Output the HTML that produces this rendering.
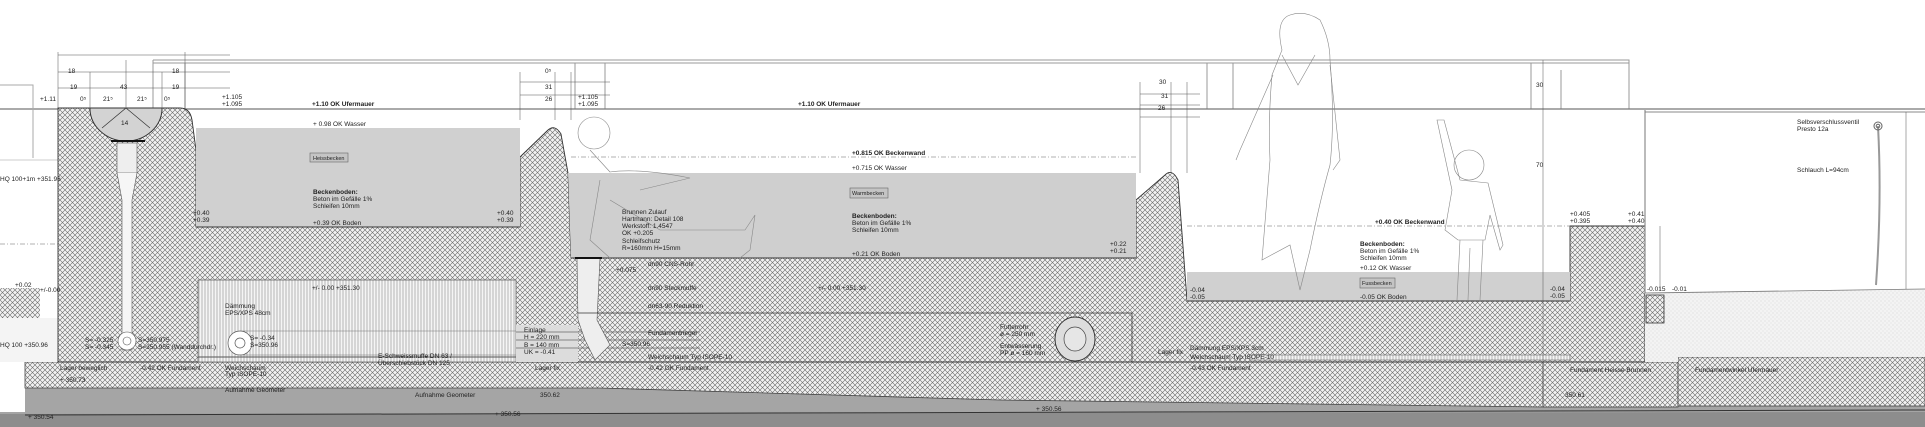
<!DOCTYPE html>
<html><head><meta charset="utf-8"><style>
html,body{margin:0;padding:0;background:#fff}
svg{display:block}
text{font-family:"Liberation Sans",sans-serif;font-size:6.5px;fill:#222}
.b{font-weight:bold}
.s{font-size:5.5px}
</style></head><body>
<svg width="1925" height="427" viewBox="0 0 1925 427" xmlns="http://www.w3.org/2000/svg">
<defs>
<pattern id="h" width="5" height="5" patternUnits="userSpaceOnUse">
<rect width="5" height="5" fill="#f2f2f2"/>
<path d="M0,0L5,5M5,0L0,5" stroke="#6a6a6a" stroke-width="0.6"/>
</pattern>
<pattern id="v" width="3" height="3" patternUnits="userSpaceOnUse">
<rect width="3" height="3" fill="#f5f5f5"/>
<path d="M1,0V3" stroke="#8a8a8a" stroke-width="0.6"/>
</pattern>
<pattern id="d" width="4" height="4" patternUnits="userSpaceOnUse">
<rect width="4" height="4" fill="#f3f3f3"/>
<circle cx="1" cy="1" r="0.4" fill="#aaa"/><circle cx="3" cy="3" r="0.4" fill="#bbb"/>
</pattern>
</defs>

<g stroke="#999" fill="none" stroke-width="1">
<path d="M153,60H1629V109"/>
<path d="M153,63H1629"/>
<path d="M153,60V109M185,63V109M575,63V109M605,63V109"/>
<path d="M1207,63V109M1233,63V109M1531,63V109M1561,70V109"/>
</g>
<path d="M0,109H1925" stroke="#777" stroke-width="1.2"/>
<path d="M1645,112H1925" stroke="#888" stroke-width="1"/>
<path d="M0,85H33V158" stroke="#aaa" fill="none"/>
<path d="M0,160H58" stroke="#ccc"/>

<polygon points="25,387 600,385 1000,398 1543,404 1925,404 1925,427 0,427 0,412 25,412" fill="#a5a5a5"/>
<polygon points="0,414 1925,412 1925,427 0,427" fill="#8d8d8d"/>
<path d="M25,415 L1925,410" stroke="#333" stroke-width="1"/>

<polygon points="25,362 1543,362 1543,407 1000,400 600,388 25,388" fill="url(#h)" stroke="#444" stroke-width="0.8"/>
<rect x="1543" y="362" width="135" height="45" fill="url(#h)" stroke="#444" stroke-width="0.8"/>
<rect x="1678" y="357" width="247" height="49" fill="url(#h)" stroke="#444" stroke-width="0.8"/>

<rect x="0" y="288" width="40" height="30" fill="url(#h)"/>
<rect x="0" y="318" width="58" height="44" fill="#f4f4f4"/>

<path d="M58,108 H90 A36,33 0 0 0 162,108 H180 Q190,108 192,120 L196,150 V227 H520 V157 L548,130 Q555,124 561,134 L568,173 L571,258 H1136 V200 L1165,175 Q1172,168 1178,180 L1187,300 V301 H1570 V226 H1645 V362 H58 Z" fill="url(#h)" stroke="#333" stroke-width="0.9"/>
<path d="M90,108 A36,33 0 0 0 162,108 Z" fill="#d3d3d3" stroke="#333" stroke-width="0.9"/>
<path d="M102,128 L126,108 L150,128" stroke="#333" fill="none" stroke-width="0.7"/>
<path d="M111,141 H145" stroke="#111" stroke-width="2"/>
<rect x="117" y="143" width="20" height="30" fill="#eee" stroke="#555" stroke-width="0.6"/>
<path d="M117,173 L122,200 V350 H132 V200 L137,173" fill="#f6f6f6" stroke="#555" stroke-width="0.6"/>
<circle cx="127" cy="341" r="9" fill="#fff" stroke="#555" stroke-width="0.6"/>
<circle cx="127" cy="341" r="4" fill="none" stroke="#555" stroke-width="0.6"/>

<rect x="196" y="128" width="324" height="99" fill="#d0d0d0"/>
<path d="M196,227 H520" stroke="#333"/>
<polygon points="568,173 1136,173 1136,258 571,258" fill="#cfcfcf"/>
<path d="M571,258 H1136" stroke="#333"/>
<rect x="1187" y="272" width="383" height="29" fill="#d0d0d0"/>
<path d="M1187,301 H1570" stroke="#333"/>

<rect x="198" y="280" width="318" height="82" fill="url(#v)" stroke="#555" stroke-width="0.7"/>
<rect x="516" y="325" width="62" height="37" fill="#dcdcdc"/>
<path d="M516,332H700M516,340H700M516,348H700" stroke="#666" stroke-width="0.7"/>
<circle cx="240" cy="343" r="12" fill="#fff" stroke="#555" stroke-width="0.7"/>
<circle cx="240" cy="343" r="5" fill="none" stroke="#555" stroke-width="0.7"/>
<path d="M240,331 H516 M240,355 H516" stroke="#777" stroke-width="0.6"/>
<path d="M577,258 H600 L597,320 L610,345 L595,360 L585,340 L578,320 Z" fill="#eee" stroke="#555" stroke-width="0.6"/>
<path d="M575,258 H602" stroke="#111" stroke-width="2"/>
<path d="M578,313 H1132 V362" stroke="#333" fill="none" stroke-width="0.8"/>
<ellipse cx="1075" cy="339" rx="20" ry="22" fill="#ddd" stroke="#333"/>
<ellipse cx="1075" cy="339" rx="11" ry="12" fill="#e6e6e6" stroke="#444" stroke-width="0.7"/>
<rect x="1250" y="355" width="320" height="5" fill="url(#v)" stroke="#555" stroke-width="0.5"/>
<path d="M198,357 H516" stroke="#555"/>

<polygon points="1645,293 1925,289 1925,357 1678,357 1678,362 1645,362" fill="url(#d)"/>
<path d="M1645,293 L1925,289" stroke="#777" stroke-width="0.8"/>
<rect x="1646" y="295" width="18" height="28" fill="url(#h)" stroke="#333" stroke-width="0.8"/>
<path d="M1645,110 V293" stroke="#777"/>

<g stroke="#666" stroke-width="0.6" stroke-dasharray="5,2,1,2" fill="none">
<path d="M571,157H1136"/><path d="M1187,226H1570"/><path d="M0,244H58"/>
</g>

<g fill="none" stroke="#888" stroke-width="0.6">
<circle cx="594" cy="133" r="16"/>
<path d="M590,150 L610,172 Q640,168 690,178 L640,190 M610,200 L660,230 L745,230 L755,215 L750,250 L740,258 M600,180 L590,240 L610,258"/>
<path d="M1290,15 Q1275,20 1282,50 L1272,75 Q1268,120 1270,160 L1262,260 L1290,245 L1300,290 L1310,250 Q1320,200 1330,165 Q1335,120 1330,60 Q1330,40 1320,20 Q1305,10 1290,15 Z"/>
<path d="M1282,55 L1298,85 L1315,55 M1273,75 L1240,150 L1236,160 M1330,65 L1340,160 L1333,170"/>
<circle cx="1469" cy="165" r="15"/>
<path d="M1437,120 L1444,120 L1460,180 L1488,183 L1503,245 L1500,250 L1490,215 L1485,240 L1458,240 L1445,230 L1452,190 Z M1460,240 L1457,300 M1483,240 L1480,300 M1470,248 L1468,300"/>
<path d="M1878,126 Q1882,200 1876,285" stroke="#999" stroke-width="2"/>
</g>
<circle cx="1878" cy="126" r="4" fill="none" stroke="#666"/>
<circle cx="1878" cy="126" r="1.8" fill="none" stroke="#666"/>

<g stroke="#555" stroke-width="0.5" fill="none">
<path d="M58,52V108M90,72V108M126,60V108M162,72V108M185,52V108M58,55H230M58,72H230M58,88H230"/>
<path d="M520,72V120M555,72V120M571,72V120M520,82H610M520,95H610"/>
<path d="M1140,82V173M1171,82V173M1187,82V173M1140,94H1200M1140,105H1200M1140,117H1200"/>
<path d="M1543,60V407M1660,226V290M1906,112V289"/>
</g>

<text x="68" y="73">18</text><text x="172" y="73">18</text><text x="70" y="89">19</text><text x="120" y="89">43</text><text x="172" y="89">19</text>
<text x="40" y="101">+1.11</text><text x="80" y="101">0⁵</text><text x="103" y="101">21⁵</text><text x="137" y="101">21⁵</text><text x="164" y="101">0⁵</text>
<text x="222" y="99">+1.105</text><text x="222" y="106">+1.095</text>
<text x="312" y="106" class="b">+1.10 OK Ufermauer</text>
<text x="798" y="106" class="b">+1.10 OK Ufermauer</text>
<text x="545" y="73">0⁵</text><text x="545" y="89">31</text><text x="545" y="101">26</text><text x="578" y="99">+1.105</text><text x="578" y="106">+1.095</text>
<text x="121" y="125">14</text>
<text x="313" y="126">+ 0.98 OK Wasser</text>
<rect x="310" y="153" width="38" height="9" fill="#c4c4c4" stroke="#666" stroke-width="0.6"/><text x="313" y="160" class="s">Heissbecken</text>
<text x="313" y="194" class="b">Beckenboden:</text><text x="313" y="201">Beton im Gefälle 1%</text><text x="313" y="208">Schleifen 10mm</text>
<text x="313" y="225">+0.39 OK Boden</text>
<text x="193" y="215">+0.40</text><text x="193" y="222">+0.39</text>
<text x="497" y="215">+0.40</text><text x="497" y="222">+0.39</text>
<text x="0" y="181">HQ 100+1m +351.96</text>
<text x="0" y="347">HQ 100 +350.96</text>
<text x="15" y="287">+0.02</text><text x="40" y="292">+/-0.00</text>
<text x="85" y="342">S= -0.325</text><text x="85" y="349">S= -0.345</text>
<text x="138" y="342">S=350.975</text><text x="138" y="349">S=350.955 (Wanddurchdr.)</text>
<text x="225" y="308">Dämmung</text><text x="225" y="315">EPS/XPS 48cm</text>
<text x="312" y="290">+/- 0.00 +351.30</text>
<text x="250" y="340">S= -0.34</text><text x="250" y="347">S=350.96</text>
<text x="524" y="332">Einlage</text><text x="524" y="339">H = 220 mm</text><text x="524" y="347">B = 140 mm</text><text x="524" y="354">UK = -0.41</text>
<text x="378" y="358">E-Schweissmuffe DN 63 /</text><text x="378" y="365">Überschiebstück DN 125</text>
<text x="60" y="370">Lager beweglich</text><text x="140" y="370">-0.42 OK Fundament</text>
<text x="225" y="370">Weichschaum</text><text x="225" y="376">Typ ISOPE-10</text>
<text x="535" y="370">Lager fix</text>
<text x="60" y="382">+ 350.73</text><text x="225" y="392">Aufnahme Geometer</text><text x="415" y="397">Aufnahme Geometer</text><text x="540" y="397">350.62</text>
<text x="28" y="419">+ 350.54</text><text x="495" y="416">+ 350.56</text>
<text x="1036" y="411">+ 350.56</text>
<text x="622" y="214">Brunnen Zulauf</text><text x="622" y="221">Hartmann: Detail 108</text><text x="622" y="228">Werkstoff: 1.4547</text><text x="622" y="235">OK +0.205</text>
<text x="622" y="243">Schleifschutz</text><text x="622" y="250">R=160mm H=15mm</text>
<text x="648" y="266">dn90 CNS-Rohr</text><text x="616" y="272">+0.075</text>
<text x="648" y="290">dn90 Steckmuffe</text><text x="648" y="308">dn63-90 Reduktion</text>
<text x="648" y="335">Fundamentriegel</text><text x="622" y="346">S=350.96</text>
<text x="648" y="359">Weichschaum Typ ISOPE-10</text><text x="648" y="370">-0.42 OK Fundament</text>
<text x="852" y="155" class="b">+0.815 OK Beckenwand</text>
<text x="852" y="170">+0.715 OK Wasser</text>
<rect x="850" y="188" width="38" height="10" fill="#c4c4c4" stroke="#666" stroke-width="0.6"/><text x="852" y="195" class="s">Warmbecken</text>
<text x="852" y="218" class="b">Beckenboden:</text><text x="852" y="225">Beton im Gefälle 1%</text><text x="852" y="232">Schleifen 10mm</text>
<text x="852" y="256">+0.21 OK Boden</text>
<text x="818" y="290">+/- 0.00 +351.30</text>
<text x="1000" y="329">Futterrohr</text><text x="1000" y="336">ø = 250 mm</text>
<text x="1000" y="348">Entwässerung</text><text x="1000" y="355">PP ø = 160 mm</text>
<text x="1158" y="354">Lager fix</text>
<text x="1110" y="246">+0.22</text><text x="1110" y="253">+0.21</text>
<text x="1159" y="84">30</text><text x="1161" y="98">31</text><text x="1158" y="110">26</text>
<text x="1375" y="224" class="b">+0.40 OK Beckenwand</text>
<text x="1360" y="246" class="b">Beckenboden:</text><text x="1360" y="253">Beton im Gefälle 1%</text><text x="1360" y="260">Schleifen 10mm</text>
<text x="1360" y="270">+0.12 OK Wasser</text>
<rect x="1360" y="278" width="35" height="10" fill="#c4c4c4" stroke="#666" stroke-width="0.6"/><text x="1362" y="285" class="s">Fussbecken</text>
<text x="1360" y="299">-0.05 OK Boden</text>
<text x="1190" y="292">-0.04</text><text x="1190" y="299">-0.05</text>
<text x="1550" y="291">-0.04</text><text x="1550" y="298">-0.05</text>
<text x="1570" y="216">+0.405</text><text x="1570" y="223">+0.395</text>
<text x="1628" y="216">+0.41</text><text x="1628" y="223">+0.40</text>
<text x="1647" y="291">-0.015</text><text x="1672" y="291">-0.01</text>
<text x="1190" y="350">Dämmung EPS/XPS 3cm</text><text x="1190" y="359">Weichschaum Typ ISOPE-10</text><text x="1190" y="370">-0.43 OK Fundament</text>
<text x="1570" y="372">Fundament Heisse Brunnen</text>
<text x="1695" y="372">Fundamentwinkel Ufermauer</text>
<text x="1565" y="397">350.61</text>
<text x="1797" y="124">Selbsverschlussventil</text><text x="1797" y="131">Presto 12a</text>
<text x="1797" y="172">Schlauch L=94cm</text>
<text x="1536" y="87">30</text><text x="1536" y="167">70</text>
</svg>
</body></html>
